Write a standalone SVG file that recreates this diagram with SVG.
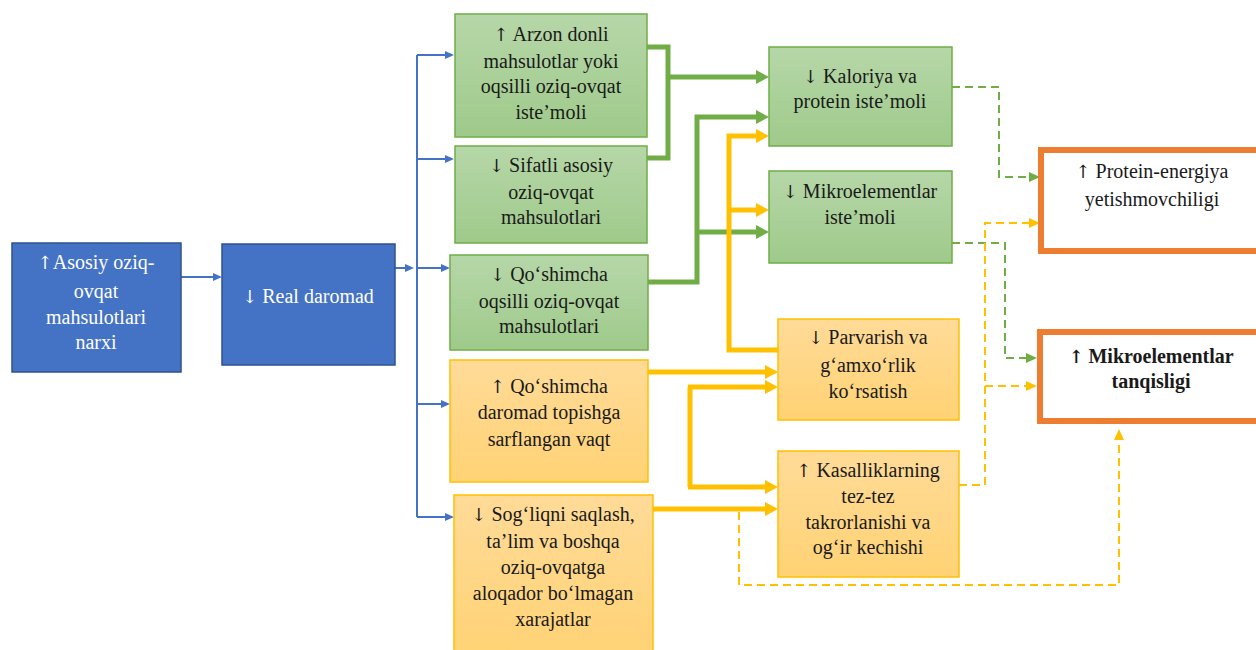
<svg xmlns="http://www.w3.org/2000/svg" width="1256" height="650" viewBox="0 0 1256 650">
<style>
  text { font-family: "Liberation Serif", "Times New Roman", serif; font-size: 20px; fill: #1a1a1a; text-anchor: middle; }
  .ar { font-family: "DejaVu Serif", "DejaVu Sans", serif; font-size: 18px; }
  .w { fill: #ffffff; }
  .b { font-weight: bold; }
  .blue { fill: #4472C4; stroke: #2F528F; stroke-width: 1.5; }
  .green { fill: url(#gg); stroke: #70AD47; stroke-width: 1.5; }
  .orange { fill: url(#og); stroke: #FFC000; stroke-width: 1.5; }
  .out { fill: #ffffff; stroke: #ED7D31; stroke-width: 6; }
  .lb { fill: none; stroke: #4472C4; stroke-width: 2; }
  .lg { fill: none; stroke: #70AD47; stroke-width: 5; }
  .ly { fill: none; stroke: #FFC000; stroke-width: 5; }
  .dg { fill: none; stroke: #70AD47; stroke-width: 2; stroke-dasharray: 8 5; }
  .dy { fill: none; stroke: #FFC000; stroke-width: 2; stroke-dasharray: 8 5; }
</style>
<defs>
  <linearGradient id="gg" x1="0" y1="0" x2="0" y2="1">
    <stop offset="0" stop-color="#B6D7A8"/>
    <stop offset="1" stop-color="#9FCA8B"/>
  </linearGradient>
  <linearGradient id="og" x1="0" y1="0" x2="0" y2="1">
    <stop offset="0" stop-color="#FFDB98"/>
    <stop offset="1" stop-color="#FFD274"/>
  </linearGradient>
  <marker id="ab" viewBox="0 0 9 8" refX="1" refY="4" markerWidth="9" markerHeight="8" markerUnits="userSpaceOnUse" orient="auto">
    <path d="M0,0 L9,4 L0,8 z" fill="#4472C4"/>
  </marker>
  <marker id="ag" viewBox="0 0 13 14" refX="1" refY="7" markerWidth="13" markerHeight="14" markerUnits="userSpaceOnUse" orient="auto">
    <path d="M0,0 L13,7 L0,14 z" fill="#70AD47"/>
  </marker>
  <marker id="ay" viewBox="0 0 13 14" refX="1" refY="7" markerWidth="13" markerHeight="14" markerUnits="userSpaceOnUse" orient="auto">
    <path d="M0,0 L13,7 L0,14 z" fill="#FFC000"/>
  </marker>
  <marker id="adg" viewBox="0 0 11 10" refX="1" refY="5" markerWidth="11" markerHeight="10" markerUnits="userSpaceOnUse" orient="auto">
    <path d="M0,0 L11,5 L0,10 z" fill="#70AD47"/>
  </marker>
  <marker id="ady" viewBox="0 0 11 10" refX="1" refY="5" markerWidth="11" markerHeight="10" markerUnits="userSpaceOnUse" orient="auto">
    <path d="M0,0 L11,5 L0,10 z" fill="#FFC000"/>
  </marker>
</defs>

<g id="connectors">
  <path class="lb" d="M181,277 H214" marker-end="url(#ab)"/>
  <path class="lb" d="M395,268 H406" marker-end="url(#ab)"/>
  <path class="lb" d="M417,55 V517"/>
  <path class="lb" d="M417,55 H446" marker-end="url(#ab)"/>
  <path class="lb" d="M417,159 H446" marker-end="url(#ab)"/>
  <path class="lb" d="M417,268 H442" marker-end="url(#ab)"/>
  <path class="lb" d="M417,404 H442" marker-end="url(#ab)"/>
  <path class="lb" d="M417,517 H446" marker-end="url(#ab)"/>

  <path class="lg" d="M646,47 H668 V158 H646"/>
  <path class="lg" d="M668,77 H757" marker-end="url(#ag)"/>
  <path class="lg" d="M648,282 H697 V117 H757" marker-end="url(#ag)"/>
  <path class="lg" d="M697,232 H757" marker-end="url(#ag)"/>

  <path class="ly" d="M780,350 H729 V136 H757" marker-end="url(#ay)"/>
  <path class="ly" d="M729,210 H757" marker-end="url(#ay)"/>
  <path class="ly" d="M648,372 H766" marker-end="url(#ay)"/>
  <path class="ly" d="M690,387 V487"/>
  <path class="ly" d="M688,387 H766" marker-end="url(#ay)"/>
  <path class="ly" d="M688,487 H766" marker-end="url(#ay)"/>
  <path class="ly" d="M652,509 H766" marker-end="url(#ay)"/>

  <path class="dg" d="M952,87 H999 V177 H1030" marker-end="url(#adg)"/>
  <path class="dg" d="M952,243 H1005 V358 H1027" marker-end="url(#adg)"/>
  <path class="dy" d="M959,485 H985 V223 H1030" marker-end="url(#ady)"/>
  <path class="dy" d="M985,386 H1027" marker-end="url(#ady)"/>
  <path class="dy" d="M739,512 V585 H1119 V439" marker-end="url(#ady)"/>
</g>

<g id="n1">
  <rect class="blue" x="12" y="243" width="169" height="129"/>
  <text class="w" x="96" y="269"><tspan class="ar w">↑</tspan>Asosiy oziq-</text>
  <text class="w" x="96" y="298">ovqat</text>
  <text class="w" x="96" y="324">mahsulotlari</text>
  <text class="w" x="96" y="349">narxi</text>
</g>
<g id="n2">
  <rect class="blue" x="222" y="244" width="173" height="121"/>
  <text class="w" x="308" y="303"><tspan class="ar w">↓</tspan> Real daromad</text>
</g>
<g id="n3">
  <rect class="green" x="455" y="14" width="192" height="123"/>
  <text x="551" y="41"><tspan class="ar">↑</tspan> Arzon donli</text>
  <text x="551" y="68">mahsulotlar yoki</text>
  <text x="551" y="93">oqsilli oziq-ovqat</text>
  <text x="551" y="119">iste’moli</text>
</g>
<g id="n4">
  <rect class="green" x="455" y="146" width="192" height="97"/>
  <text x="551" y="172"><tspan class="ar">↓</tspan> Sifatli asosiy</text>
  <text x="551" y="199">oziq-ovqat</text>
  <text x="551" y="224">mahsulotlari</text>
</g>
<g id="n5">
  <rect class="green" x="450" y="255" width="198" height="95"/>
  <text x="549" y="281"><tspan class="ar">↓</tspan> Qo‘shimcha</text>
  <text x="549" y="308">oqsilli oziq-ovqat</text>
  <text x="549" y="333">mahsulotlari</text>
</g>
<g id="n6">
  <rect class="orange" x="450" y="360" width="198" height="122"/>
  <text x="549" y="393"><tspan class="ar">↑</tspan> Qo‘shimcha</text>
  <text x="549" y="419">daromad topishga</text>
  <text x="549" y="446">sarflangan vaqt</text>
</g>
<g id="n7">
  <rect class="orange" x="454" y="495" width="199" height="165"/>
  <text x="553" y="521"><tspan class="ar">↓</tspan> Sog‘liqni saqlash,</text>
  <text x="553" y="548">ta’lim va boshqa</text>
  <text x="553" y="574">oziq-ovqatga</text>
  <text x="553" y="600">aloqador bo‘lmagan</text>
  <text x="553" y="626">xarajatlar</text>
</g>
<g id="n8">
  <rect class="green" x="769" y="47" width="183" height="99"/>
  <text x="860" y="83"><tspan class="ar">↓</tspan> Kaloriya va</text>
  <text x="860" y="108">protein iste’moli</text>
</g>
<g id="n9">
  <rect class="green" x="769" y="171" width="183" height="92"/>
  <text x="860" y="198"><tspan class="ar">↓</tspan> Mikroelementlar</text>
  <text x="860" y="224">iste’moli</text>
</g>
<g id="n10">
  <rect class="orange" x="778" y="319" width="181" height="101"/>
  <text x="868" y="344"><tspan class="ar">↓</tspan> Parvarish va</text>
  <text x="868" y="372">g‘amxo‘rlik</text>
  <text x="868" y="398">ko‘rsatish</text>
</g>
<g id="n11">
  <rect class="orange" x="778" y="451" width="181" height="126"/>
  <text x="868" y="477"><tspan class="ar">↑</tspan> Kasalliklarning</text>
  <text x="868" y="503">tez-tez</text>
  <text x="868" y="529">takrorlanishi va</text>
  <text x="868" y="554">og‘ir kechishi</text>
</g>
<g id="n12">
  <rect class="out" x="1041" y="150" width="222" height="101"/>
  <text x="1152" y="178"><tspan class="ar">↑</tspan> Protein-energiya</text>
  <text x="1152" y="206">yetishmovchiligi</text>
</g>
<g id="n13">
  <rect class="out" x="1040" y="332" width="222" height="89"/>
  <text class="b" x="1151" y="363"><tspan class="ar">↑</tspan> Mikroelementlar</text>
  <text class="b" x="1151" y="388">tanqisligi</text>
</g>
</svg>
